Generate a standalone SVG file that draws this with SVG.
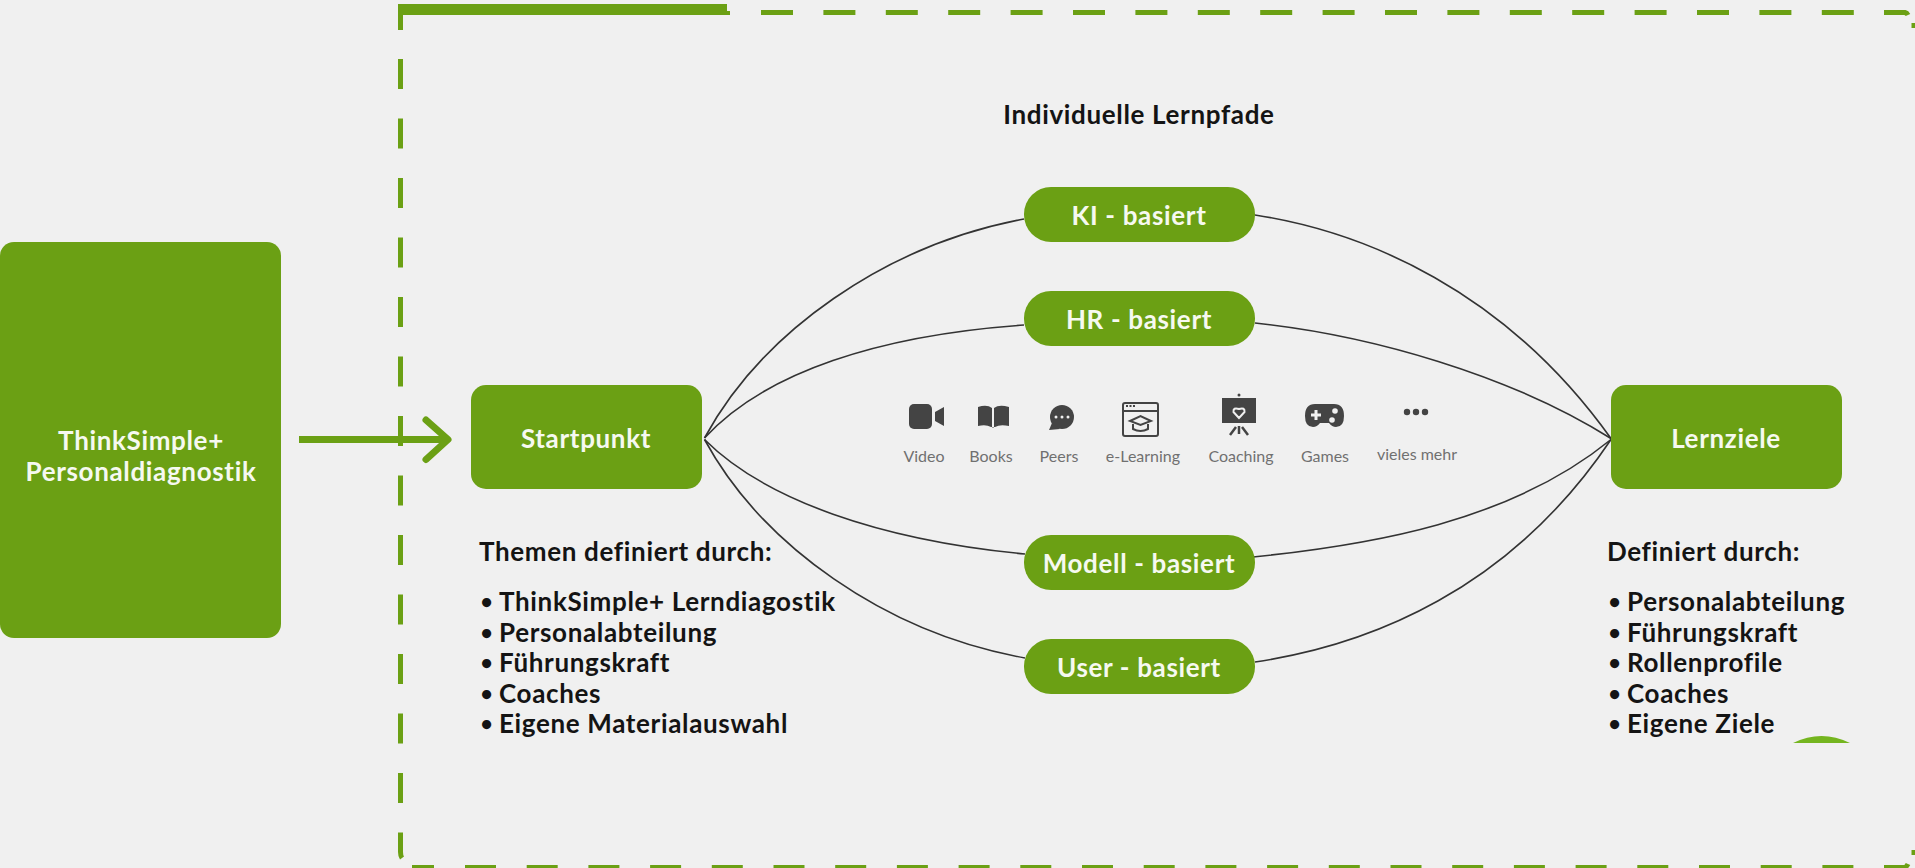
<svg xmlns="http://www.w3.org/2000/svg" width="1915" height="868" viewBox="0 0 1915 868">
<style>
.box{fill:#6ba014}
.lbl{font-family:"Lato","Liberation Sans",sans-serif;font-weight:700;fill:#f6f9f0;text-anchor:middle;font-size:26px;letter-spacing:.65px}
.blk{font-family:"Lato","Liberation Sans",sans-serif;font-weight:700;fill:#141414;font-size:26px;letter-spacing:.65px}
.bul{font-size:21px}
.cap{font-family:"Lato","Liberation Sans",sans-serif;font-weight:400;fill:#707070;font-size:16px;text-anchor:middle}
.ic{fill:#444}
.icl{fill:none;stroke:#444;stroke-width:2}
.hole{fill:#f0f0f0}
.curve{fill:none;stroke:#333;stroke-width:1.6}
.dash{fill:none;stroke:#6ba014;stroke-width:5}
</style>
<rect width="1915" height="868" fill="#f0f0f0"/>
<g id="frame">
<path class="box" d="M398 4H727V11H730V15H403V30H398Z"/>
<path class="dash" d="M400.500 59V852Q400.500 856 402 858" stroke-dasharray="30 29.500"/>
<path class="dash" d="M412 867.500H434"/>
<path class="dash" d="M465 867.500H1884" stroke-dasharray="31 30.700"/>
<path class="dash" d="M1884 867.500H1905Q1907 866 1908 864"/>
<path class="dash" d="M761 12.500H1884" stroke-dasharray="32 30.400"/>
<path class="dash" d="M1884 12.500H1905Q1907 13 1908 15"/>
<path class="dash" d="M1914 23V28"/>
<path class="dash" d="M1914 850V855"/>
</g>
<g id="connectors">
<path class="curve" d="M704.500 438C762 332 885 245 1024 219"/>
<path class="curve" d="M704.500 438C765 372 880 335 1024 325"/>
<path class="curve" d="M704.500 439.500C765 500 880 540 1025 554"/>
<path class="curve" d="M704.500 439.500C762 545 885 633 1025 658"/>
<path class="curve" d="M1255 215C1365 232 1505 290 1611 438.500"/>
<path class="curve" d="M1255 323C1370 335 1510 375 1611 438.500"/>
<path class="curve" d="M1253 557C1370 545 1510 522 1611 439.500"/>
<path class="curve" d="M1255 662C1370 645 1510 590 1611 439.500"/>
<g fill="none" stroke="#6ba014" stroke-width="7" stroke-linejoin="round">
<path d="M299 439.500H446"/>
<path d="M426 420L448 439.500L426 459.500" stroke-linecap="round"/>
</g>
</g>
<g id="n-diagnostik"><rect class="box" x="0" y="242" width="281" height="396" rx="14"/>
<text class="lbl" x="141" y="450">ThinkSimple+</text><text class="lbl" x="141" y="481">Personaldiagnostik</text></g>
<g id="n-start"><rect class="box" x="471" y="385" width="231" height="104" rx="15"/><text class="lbl" x="586" y="448">Startpunkt</text></g>
<g id="n-ziele"><rect class="box" x="1611" y="385" width="231" height="104" rx="15"/><text class="lbl" x="1726" y="448">Lernziele</text></g>
<g id="n-ki"><rect class="box" x="1024" y="187" width="231" height="55" rx="27"/><text class="lbl" x="1139" y="225">KI - basiert</text></g>
<g id="n-hr"><rect class="box" x="1024" y="291" width="231" height="55" rx="27"/><text class="lbl" x="1139" y="329">HR - basiert</text></g>
<g id="n-modell"><rect class="box" x="1024" y="535" width="231" height="55" rx="27"/><text class="lbl" x="1139" y="573">Modell - basiert</text></g>
<g id="n-user"><rect class="box" x="1024" y="639" width="231" height="55" rx="27"/><text class="lbl" x="1139" y="677">User - basiert</text></g>
<text class="blk" x="1139" y="124" text-anchor="middle">Individuelle Lernpfade</text>
<g id="list-left">
<text class="blk" x="479" y="561">Themen definiert durch:</text>
<text class="blk" y="611"><tspan class="bul" x="480.500" dy="-1.600">•</tspan><tspan x="499" dy="1.600">ThinkSimple+ Lerndiagostik</tspan></text>
<text class="blk" y="642"><tspan class="bul" x="480.500" dy="-1.600">•</tspan><tspan x="499" dy="1.600">Personalabteilung</tspan></text>
<text class="blk" y="672"><tspan class="bul" x="480.500" dy="-1.600">•</tspan><tspan x="499" dy="1.600">Führungskraft</tspan></text>
<text class="blk" y="703"><tspan class="bul" x="480.500" dy="-1.600">•</tspan><tspan x="499" dy="1.600">Coaches</tspan></text>
<text class="blk" y="733"><tspan class="bul" x="480.500" dy="-1.600">•</tspan><tspan x="499" dy="1.600">Eigene Materialauswahl</tspan></text>
</g>
<g id="list-right">
<text class="blk" x="1607" y="561">Definiert durch:</text>
<text class="blk" y="611"><tspan class="bul" x="1608.500" dy="-1.600">•</tspan><tspan x="1627" dy="1.600">Personalabteilung</tspan></text>
<text class="blk" y="642"><tspan class="bul" x="1608.500" dy="-1.600">•</tspan><tspan x="1627" dy="1.600">Führungskraft</tspan></text>
<text class="blk" y="672"><tspan class="bul" x="1608.500" dy="-1.600">•</tspan><tspan x="1627" dy="1.600">Rollenprofile</tspan></text>
<text class="blk" y="703"><tspan class="bul" x="1608.500" dy="-1.600">•</tspan><tspan x="1627" dy="1.600">Coaches</tspan></text>
<text class="blk" y="733"><tspan class="bul" x="1608.500" dy="-1.600">•</tspan><tspan x="1627" dy="1.600">Eigene Ziele</tspan></text>
</g>
<path id="badge" d="M1793 743Q1821.500 729 1850 743Z" fill="#74b51f"/>
<g id="icons">
<g id="i-video"><rect class="ic" x="909" y="404" width="23" height="25" rx="5"/><path class="ic" d="M935 412L944 407V426L935 421Z"/><text class="cap" x="924" y="462">Video</text></g>
<g id="i-books"><path class="ic" d="M978 407Q987 404 992 408V427L993 428L994 427V408Q999 404 1009 407V426Q1000 424 995 427H991Q986 424 978 426Z"/><text class="cap" x="991" y="462">Books</text></g>
<g id="i-peers"><circle class="ic" cx="1062" cy="417" r="12"/><path class="ic" d="M1052 423L1049 430L1060 429Z"/><g class="hole"><circle cx="1056" cy="417" r="1.500"/><circle cx="1062" cy="417" r="1.500"/><circle cx="1068" cy="417" r="1.500"/></g><text class="cap" x="1059" y="462">Peers</text></g>
<g id="i-elearn"><rect class="icl" x="1123" y="403" width="35" height="33" rx="2"/><path class="icl" d="M1123 411H1158"/><path d="M1126 406H1136" stroke="#444" stroke-width="2" stroke-dasharray="2 1.500"/><path class="icl" d="M1130 421L1140.500 416L1151 421L1140.500 425Z"/><path class="icl" d="M1133 424V429Q1140.500 433 1148 429V424"/><text class="cap" x="1143" y="462">e-Learning</text></g>
<g id="i-coach"><circle class="ic" cx="1239" cy="395" r="1.500"/><rect class="ic" x="1222" y="398" width="34" height="25"/><path d="M1239 418L1233.500 412Q1233 407 1239 409Q1245 407 1244.500 412Z" fill="none" stroke="#f0f0f0" stroke-width="2"/><path d="M1239 426V434M1236 427L1230 435M1242 427L1248 435" fill="none" stroke="#444" stroke-width="2.500"/><text class="cap" x="1241" y="462">Coaching</text></g>
<g id="i-games"><path class="ic" d="M1315 404H1334Q1344 404 1344 416Q1344 427 1336 427Q1332 427 1329 423H1320Q1317 427 1313 427Q1305 427 1305 416Q1305 404 1315 404Z"/><path d="M1311 415H1321M1316 410V420" stroke="#f0f0f0" stroke-width="3" fill="none"/><circle cx="1335" cy="411" r="2.800" class="hole"/><circle cx="1332" cy="420" r="2.800" class="hole"/><text class="cap" x="1325" y="462">Games</text></g>
<g id="i-more"><circle class="ic" cx="1407" cy="412" r="3.200"/><circle class="ic" cx="1416" cy="412" r="3.200"/><circle class="ic" cx="1425" cy="412" r="3.200"/><text class="cap" x="1417" y="460">vieles mehr</text></g>
</g>
</svg>
